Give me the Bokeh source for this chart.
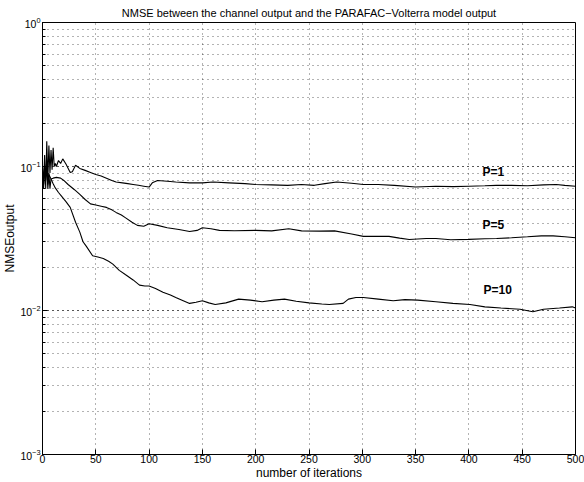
from bokeh.plotting import figure
from bokeh.models import FixedTicker, ColumnDataSource
from bokeh.core.properties import value
from bokeh.embed import file_html
from bokeh.resources import INLINE

# ---------------- data ----------------
p1_x = [0, 1, 2, 3, 4, 5, 6, 7, 8, 9, 10, 11, 12, 13, 15, 17, 19, 22, 26, 28, 31, 35, 40, 45,
        50, 55, 60, 65, 69, 75, 80, 85, 90, 95, 100, 103, 108, 117, 125, 138, 150, 160, 175,
        190, 200, 215, 230, 243, 255, 265, 276, 290, 301, 315, 330, 350, 369, 385, 400, 415,
        426, 440, 455, 470, 482, 490, 500]
p1_y = [0.10, 0.075, 0.12, 0.07, 0.15, 0.08, 0.14, 0.09, 0.13, 0.095, 0.135, 0.10, 0.105, 0.10,
        0.11, 0.105, 0.113, 0.104, 0.091, 0.092, 0.102, 0.097, 0.094, 0.091, 0.088, 0.086,
        0.083, 0.080, 0.078, 0.077, 0.076, 0.075, 0.074, 0.073, 0.072, 0.077, 0.080, 0.079,
        0.078, 0.077, 0.077, 0.078, 0.077, 0.076, 0.075, 0.0745, 0.074, 0.075, 0.074, 0.076,
        0.078, 0.0765, 0.075, 0.075, 0.074, 0.072, 0.073, 0.0725, 0.073, 0.0735, 0.074, 0.074,
        0.0735, 0.0745, 0.075, 0.074, 0.073]

p5_x = [0, 1, 2, 3, 4, 5, 6, 7, 8, 10, 13, 17, 20, 24, 30, 35, 40, 45, 50, 55, 60, 65, 69, 74,
        78, 84, 89, 95, 100, 108, 117, 128, 138, 145, 150, 158, 166, 180, 200, 215, 231, 243,
        260, 274, 290, 301, 315, 325, 335, 344, 360, 369, 383, 400, 415, 426, 440, 455, 468,
        479, 490, 500]
p5_y = [0.10, 0.07, 0.095, 0.085, 0.11, 0.075, 0.09, 0.07, 0.082, 0.083, 0.084, 0.083, 0.080,
        0.075, 0.069, 0.064, 0.059, 0.055, 0.054, 0.053, 0.052, 0.050, 0.048, 0.046, 0.044,
        0.041, 0.039, 0.0385, 0.040, 0.039, 0.0376, 0.0365, 0.0354, 0.036, 0.0376, 0.037,
        0.036, 0.0358, 0.036, 0.0357, 0.037, 0.0357, 0.0356, 0.0357, 0.034, 0.0327, 0.0327,
        0.0327, 0.0318, 0.0311, 0.0316, 0.0316, 0.031, 0.0312, 0.0315, 0.0316, 0.032, 0.0325,
        0.033, 0.033, 0.0325, 0.032]

p10_x = [0, 1, 2, 3, 4, 5, 6, 8, 10, 12, 15, 18, 22, 26, 31, 35, 38, 41, 47, 52, 57, 62, 66,
         72, 78, 85, 91, 96, 100, 106, 113, 120, 125, 132, 138, 144, 150, 156, 162, 172, 184,
         195, 206, 217, 227, 238, 250, 262, 269, 282, 287, 294, 301, 315, 329, 340, 352, 369,
         385, 401, 415, 430, 448, 460, 470, 485, 497, 500]
p10_y = [0.10, 0.075, 0.095, 0.08, 0.10, 0.07, 0.088, 0.082, 0.076, 0.071, 0.066, 0.062, 0.057,
         0.052, 0.041, 0.035, 0.030, 0.028, 0.024, 0.0235, 0.023, 0.022, 0.021, 0.019, 0.0177,
         0.0163, 0.015, 0.0148, 0.0148, 0.0142, 0.0134, 0.0128, 0.0123, 0.0117, 0.0112, 0.0114,
         0.0117, 0.0113, 0.011, 0.0113, 0.012, 0.0118, 0.0115, 0.0118, 0.012, 0.0116, 0.0113,
         0.0111, 0.011, 0.0112, 0.012, 0.0123, 0.0123, 0.012, 0.0117, 0.0119, 0.0118, 0.0115,
         0.0112, 0.011, 0.0106, 0.0104, 0.0102, 0.0098, 0.0102, 0.0104, 0.0106, 0.0104]

label_text = ["P=1", "P=5", "P=10"]
label_x = [423, 423, 427]
label_y = [0.091, 0.039, 0.0139]

x_ticks = [0, 50, 100, 150, 200, 250, 300, 350, 400, 450, 500]

FONT = "Liberation Sans"

# ---------------- figure ----------------
p = figure(width=584, height=482, y_axis_type="log", x_range=(0, 500), y_range=(1e-3, 1),
           output_backend="svg", toolbar_location=None,
           title="NMSE between the channel output and the PARAFAC\u2212Volterra model output",
           x_axis_label="number of iterations", y_axis_label="NMSEoutput")
p.min_border_right = 9
p.min_border_top = 2
p.min_border_bottom = 0
p.min_border_left = 0
p.background_fill_color = "white"
p.border_fill_color = "white"
p.outline_line_color = "black"
p.outline_line_width = 1

p.title.align = "center"
p.title.text_font = FONT
p.title.text_font_style = "normal"
p.title.text_font_size = "11px"
p.title.text_color = "black"
p.title.standoff = 8
p.title.offset = 0

for ax in (p.xaxis[0], p.yaxis[0]):
    ax.axis_label_text_font = FONT
    ax.axis_label_text_font_style = "normal"
    ax.axis_label_text_font_size = "12px"
    ax.axis_label_text_color = "black"
    ax.major_label_text_font = FONT
    ax.major_label_text_font_size = "10.5px"
    ax.major_label_text_color = "black"
    ax.major_tick_out = 0
    ax.major_tick_in = 5
    ax.minor_tick_out = 0
    ax.minor_tick_in = 3
    ax.axis_line_color = "black"
    ax.major_tick_line_color = "black"
    ax.minor_tick_line_color = "black"
    ax.major_label_standoff = 2
    ax.axis_label_standoff = 0

p.xaxis[0].ticker = FixedTicker(ticks=x_ticks)
p.xaxis[0].major_label_standoff = 0

# grid
p.xgrid.ticker = FixedTicker(ticks=x_ticks)
for g in (p.xgrid[0], p.ygrid[0]):
    g.grid_line_color = "black"
    g.grid_line_alpha = 0.6
    g.grid_line_dash = "1 4"
p.ygrid.minor_grid_line_color = "black"
p.ygrid.minor_grid_line_alpha = 0.6
p.ygrid.minor_grid_line_dash = "1 4"

# lines
for xs, ys in ((p1_x, p1_y), (p5_x, p5_y), (p10_x, p10_y)):
    p.line(xs, ys, line_color="black", line_width=1.1)

src = ColumnDataSource(dict(x=label_x, y=label_y, t=label_text))
p.text(x="x", y="y", text="t", source=src, text_font=value(FONT), text_font_style="bold",
       text_font_size="12px", text_align="center", text_baseline="middle", text_color="black")

open("out.html", "w").write(file_html(p, INLINE))
